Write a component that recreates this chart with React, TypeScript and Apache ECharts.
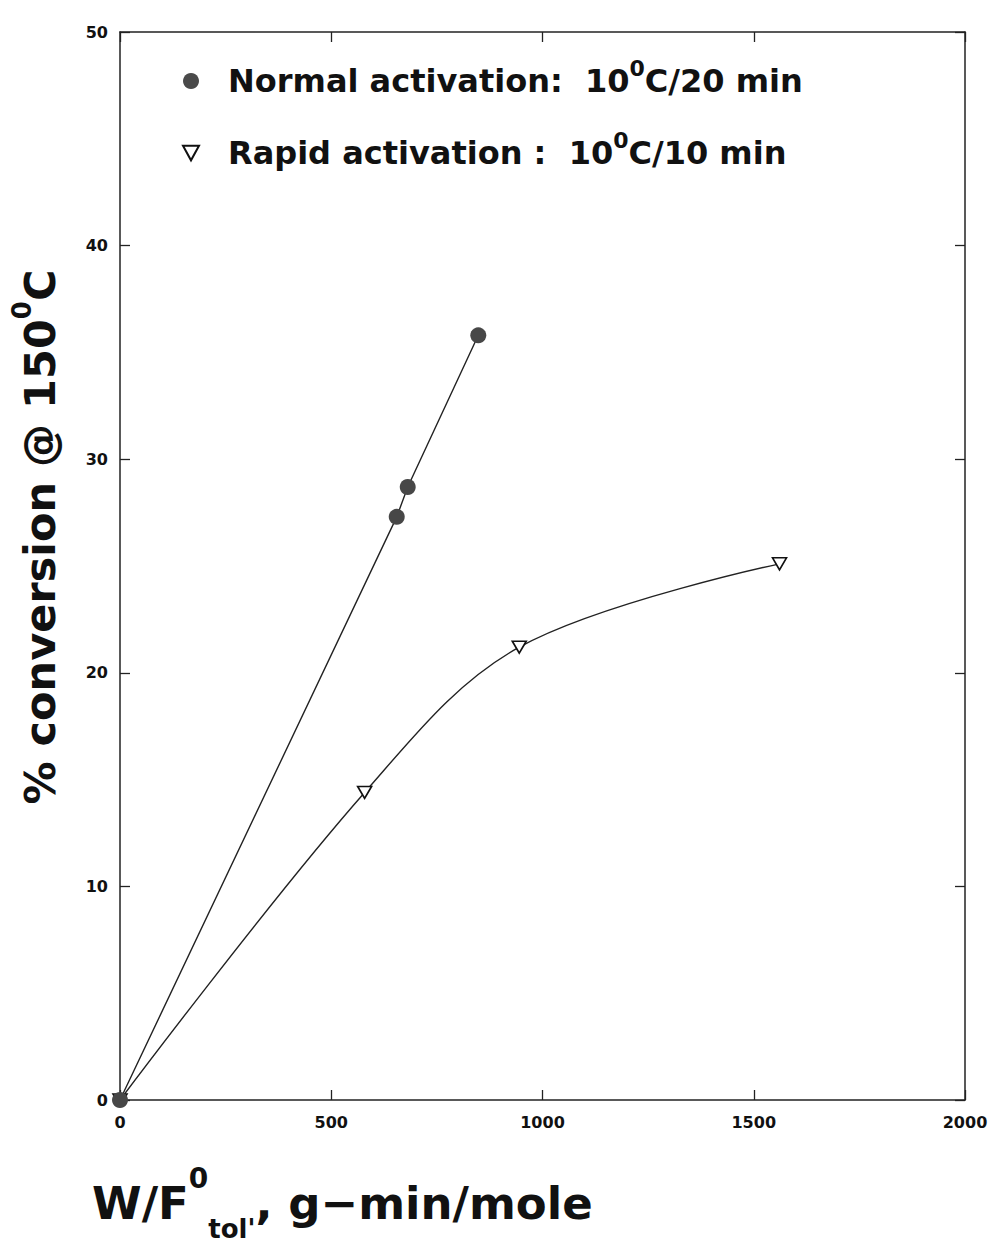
import React, { useEffect, useRef } from "react";
import * as echarts from "echarts";

const FONT = "DejaVu Sans";

// Normal activation: 10°C/20 min (filled circles)
const normalX = [0, 655, 681, 848];
const normalY = [0, 27.3, 28.7, 35.8];
// Rapid activation: 10°C/10 min (open down-triangles)
const rapidX = [0, 579, 945, 1561];
const rapidY = [0, 14.4, 21.2, 25.1];

const xTickLabels = ["0", "500", "1000", "1500", "2000"];
const yTickLabels = ["0", "10", "20", "30", "40", "50"];

const normalName = "Normal activation: 10°C/20 min";
const rapidName = "Rapid activation : 10°C/10 min";

const zip = (xs: number[], ys: number[]) => xs.map((x, i) => [x, ys[i]]);

const axisColor = "#222";

function baseAxis(extra: any) {
  return {
    type: "value",
    splitLine: { show: false },
    axisLine: { show: true, onZero: false, lineStyle: { color: axisColor, width: 1.5 } },
    axisTick: { show: true, inside: true, length: 10, lineStyle: { color: axisColor, width: 1.3 } },
    ...extra,
  };
}

export default function App() {
  const ref = useRef<HTMLDivElement>(null);
  useEffect(() => {
    document.body.style.margin = "0";
    document.body.style.overflow = "hidden";
    if (!ref.current) return;
    const chart = echarts.init(ref.current, undefined, { renderer: "svg" });
    const labelStyle = { color: "#111", fontSize: 16, fontWeight: "bold", fontFamily: FONT };
    const option: any = {
      animation: false,
      backgroundColor: "#ffffff",
      grid: { left: 120, right: 25, top: 32, bottom: 145, containLabel: false, outerBoundsMode: "none" },
      xAxis: [
        baseAxis({
          min: 0, max: 2000, interval: 500, position: "bottom",
          axisLabel: { ...labelStyle, margin: 14, formatter: (v: number) => xTickLabels[Math.round(v / 500)] ?? "" },
        }),
        baseAxis({
          min: 0, max: 2000, interval: 500, position: "top",
          axisLabel: { show: false },
        }),
      ],
      yAxis: [
        baseAxis({
          min: 0, max: 50, interval: 10, position: "left",
          axisLabel: { ...labelStyle, margin: 12, formatter: (v: number) => yTickLabels[Math.round(v / 10)] ?? "" },
        }),
        baseAxis({
          min: 0, max: 50, interval: 10, position: "right",
          axisLabel: { show: false },
        }),
      ],
      legend: {
        orient: "vertical",
        left: 177,
        top: 52,
        itemGap: 24,
        itemWidth: 16,
        itemHeight: 16,
        data: [
          { name: normalName, icon: "circle", itemStyle: { color: "#4a4a4a", borderWidth: 0 } },
          {
            name: rapidName,
            icon: "path://M0,0 L12,0 L6,11 Z",
            itemStyle: { color: "#ffffff", borderColor: "#111", borderWidth: 2 },
          },
        ],
        formatter: (name: string) =>
          name === normalName
            ? "Normal activation:  10{sup|0}C/20 min"
            : "Rapid activation :  10{sup|0}C/10 min",
        textStyle: {
          fontFamily: FONT,
          fontWeight: "bold",
          fontSize: 32,
          color: "#111",
          lineHeight: 48,
          padding: [0, 0, 0, 24],
          rich: {
            sup: { fontFamily: FONT, fontWeight: "bold", fontSize: 22, color: "#111", verticalAlign: "top", lineHeight: 22 },
          },
        },
      },
      series: [
        {
          name: rapidName,
          type: "line",
          data: zip(rapidX, rapidY),
          smooth: 0.35,
          symbol: "triangle",
          symbolRotate: 180,
          symbolSize: [14, 12],
          showAllSymbol: true,
          lineStyle: { color: "#222", width: 1.4 },
          itemStyle: { color: "#ffffff", borderColor: "#111", borderWidth: 1.6 },
          z: 2,
        },
        {
          name: normalName,
          type: "line",
          data: zip(normalX, normalY),
          smooth: false,
          symbol: "circle",
          symbolSize: 16,
          showAllSymbol: true,
          lineStyle: { color: "#222", width: 1.4 },
          itemStyle: { color: "#474747", borderWidth: 0 },
          z: 3,
        },
      ],
      graphic: [
        {
          type: "text",
          x: 40,
          y: 537,
          rotation: Math.PI / 2,
          style: {
            text: "% conversion @ 150{sup|0}C",
            fontFamily: FONT,
            fontWeight: "bold",
            fontSize: 43,
            lineHeight: 62,
            fill: "#111",
            align: "center",
            verticalAlign: "middle",
            rich: {
              sup: { fontFamily: FONT, fontWeight: "bold", fontSize: 26, lineHeight: 26, verticalAlign: "top", fill: "#111" },
            },
          },
        },
        {
          type: "text",
          x: 92,
          y: 1164,
          style: {
            text: "W/F{sup|0}{sub|tol'}, g\u2212min/mole",
            fontFamily: FONT,
            fontWeight: "bold",
            fontSize: 45,
            lineHeight: 78,
            fill: "#111",
            align: "left",
            verticalAlign: "top",
            rich: {
              sup: { fontFamily: FONT, fontWeight: "bold", fontSize: 28, lineHeight: 28, verticalAlign: "top", fill: "#111" },
              sub: { fontFamily: FONT, fontWeight: "bold", fontSize: 26, lineHeight: 26, verticalAlign: "bottom", fill: "#111" },
            },
          },
        },
      ],
    };
    chart.setOption(option);
    return () => chart.dispose();
  }, []);
  return (
    <div
      ref={ref}
      style={{ position: "absolute", left: 0, top: 0, width: 990, height: 1245, background: "#fff" }}
    />
  );
}
